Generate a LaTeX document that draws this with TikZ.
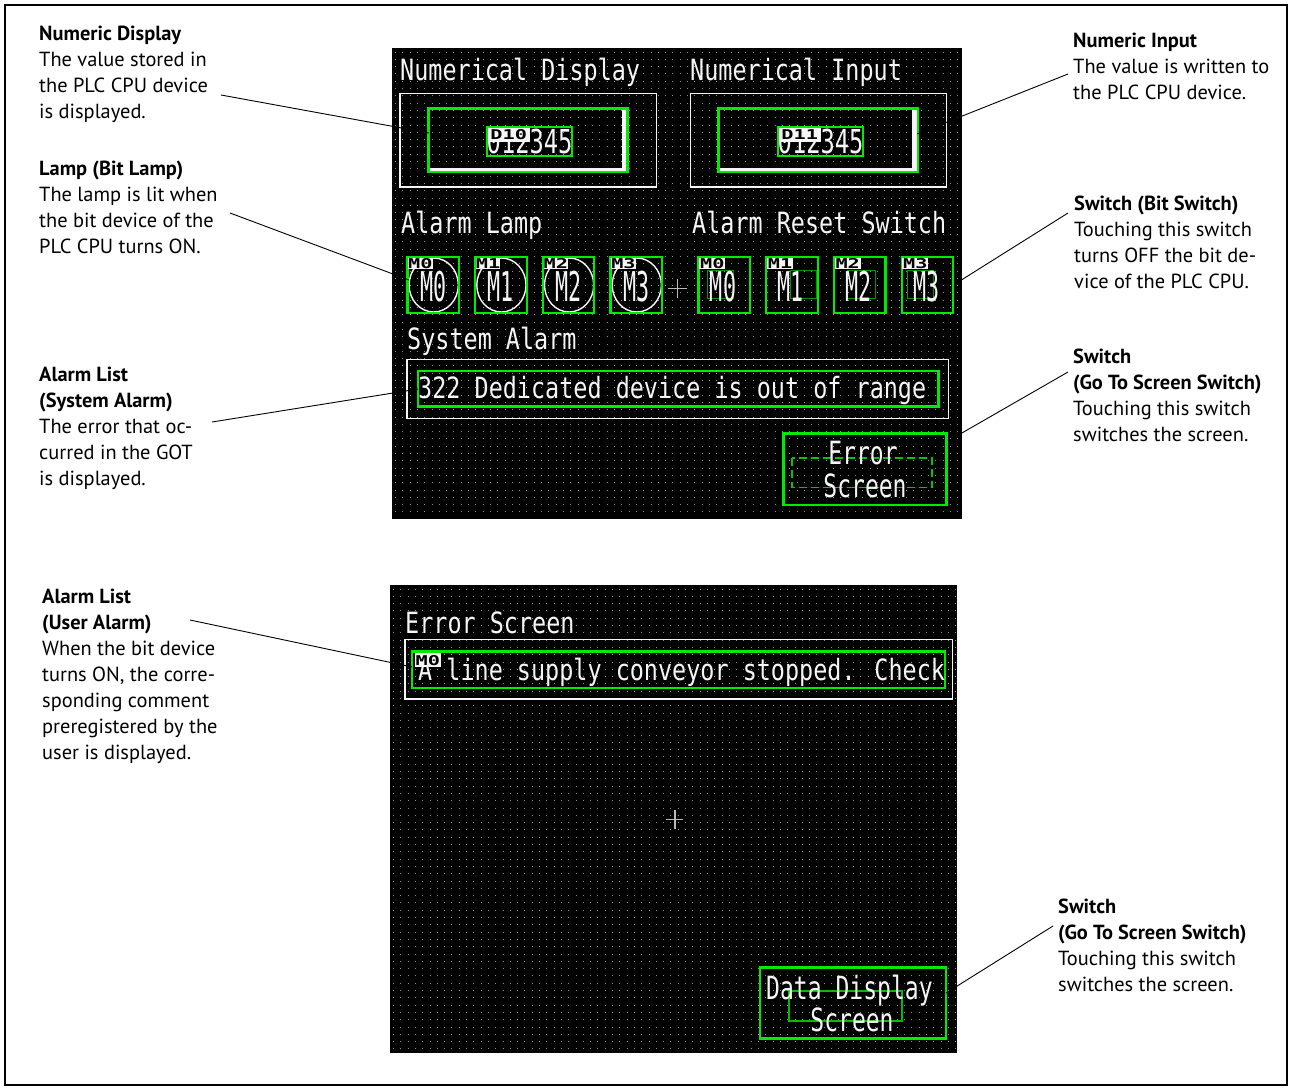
\documentclass[tikz,border=0pt]{standalone}
\usepackage{fontspec}
\setmainfont{PT Sans}
% screen fonts: narrow monospaced faces in several widths
\newfontfamily\gotA[FakeStretch=0.80]{DejaVu Sans Mono}
\newfontfamily\gotB[FakeStretch=0.72]{DejaVu Sans Mono}
\newfontfamily\gotC[FakeStretch=0.53]{DejaVu Sans Mono}
\newfontfamily\gotT[FakeStretch=1.50]{DejaVu Sans Mono}
\definecolor{gotgreen}{RGB}{0,235,0}
\definecolor{gotdark}{RGB}{0,150,0}
\definecolor{gotdot}{RGB}{140,140,140}
\definecolor{gotwhite}{RGB}{245,245,245}
\definecolor{gotcross}{RGB}{185,185,185}
\tikzset{
  screen/.style={fill=black, draw=none},
  dots/.style={draw=gotdot, line width=1pt, dash pattern=on 1pt off 6.3pt},
  wbox/.style={draw=gotwhite, line width=1.8pt},
  gbox/.style={draw=gotgreen, line width=2.2pt},
  ginner/.style={draw=gotdark, line width=1pt},
  gdash/.style={draw=gotgreen!85!black, line width=1.3pt, dash pattern=on 8pt off 4pt},
  shade/.style={fill=gotwhite, draw=none},
  lbl/.style={text=gotwhite, inner sep=0, anchor=base west, font=\gotA\fontsize{29.3}{29.3}\selectfont},
  btn/.style={text=gotwhite, inner sep=0, anchor=base, font=\gotB\fontsize{32}{32}\selectfont},
  digits/.style={text=gotwhite, inner sep=0, anchor=base west, font=\gotB\fontsize{33}{33}\selectfont},
  bigtxt/.style={text=gotwhite, inner sep=0, font=\gotC\fontsize{41}{41}\selectfont},
  tagbox/.style={fill=gotwhite, text=black, inner sep=0, anchor=north west,
    font=\gotT\bfseries\fontsize{13.5}{13.5}\selectfont},
  lampring/.style={draw=gotwhite, line width=1.4pt},
  cross/.style={draw=gotcross, line width=1.3pt},
  note/.style={align=left, inner sep=0, anchor=north west, text=black,
    font=\fontsize{20.4}{26}\selectfont},
  lead/.style={draw=black, line width=0.9pt},
}
\begin{document}
\begin{tikzpicture}[x=1pt, y=-1pt]
\useasboundingbox (0,0) rectangle (1292,1090);
\fill[white] (0,0) rectangle (1292,1090);
\draw[black, line width=1.6pt] (5,5) rectangle (1287,1085);

% ---------------- upper screen ----------------
\fill[screen] (392,48) rectangle (962,519);
\foreach \gy in {52,59.3,...,517} { \draw[dots] (395,\gy) -- (962,\gy); }

\node[lbl] (ndlabel) at (400,80) {Numerical Display};
\node[lbl] (nilabel) at (690,80) {Numerical Input};

% numerical display
\draw[wbox] (400,93.5) rectangle (656.5,187);
\fill[shade] (621.5,109) rectangle (627,171.5);
\fill[shade] (429,167.5) rectangle (627,171.5);
\draw[gbox] (428.5,108.5) rectangle (627.5,172);
\node[digits] (ndvalue) at (486.5,153) {012345};
\draw[gbox, line width=2pt] (486.5,126.5) rectangle (571.5,156);
\node[tagbox, minimum width=42pt, minimum height=14.5pt] (ndtag) at (487.5,127.5) {D10};

% numerical input
\draw[wbox] (690.5,93.5) rectangle (946.5,187);
\fill[shade] (912,109) rectangle (917.5,171.5);
\fill[shade] (719,167.5) rectangle (917.5,171.5);
\draw[gbox] (718.5,108.5) rectangle (918,172);
\node[digits] (nivalue) at (777.5,153) {012345};
\draw[gbox, line width=2pt] (777.5,126.5) rectangle (862.5,156);
\node[tagbox, minimum width=42pt, minimum height=14.5pt] (nitag) at (778.5,127.5) {D11};

% alarm lamps and reset switches
\node[lbl] (lamplabel) at (401,233) {Alarm Lamp};
\node[lbl] (resetlabel) at (692,233) {Alarm Reset Switch};
\foreach \i/\xl in {0/407.4,1/475.1,2/542.8,3/610.5} {
  \draw[lampring] (\xl+26.3,285) ellipse [x radius=24.6, y radius=27];
  \node[bigtxt] (lamp\i) at (\xl+25.8,286.5) {M\i};
  \draw[gbox] (\xl,257.3) rectangle (\xl+51.5,312.8);
  \node[tagbox, minimum width=24pt, minimum height=11pt] (lamptag\i) at (\xl+0.6,258) {M\i};
}
\draw[cross] (668,288.5) -- (687,288.5);
\draw[cross] (677.5,279) -- (677.5,298);
\foreach \i/\xl/\a/\b in {0/698.5/8.5/35,1/766.2/24/50,2/833.9/14/42,3/901.6/6/32} {
  \draw[ginner] (\xl+\a,270) rectangle (\xl+\b,298);
  \node[bigtxt] (switch\i) at (\xl+24.5,286.5) {M\i};
  \draw[gbox] (\xl,257.3) rectangle (\xl+51.5,312.8);
  \node[tagbox, minimum width=26pt, minimum height=11pt] (switchtag\i) at (\xl+0.6,258) {M\i};
}

% system alarm list
\node[lbl] (syslabel) at (407,349) {System Alarm};
\draw[wbox] (407,359.5) rectangle (948.5,418.5);
\draw[gbox] (418,371) rectangle (938.5,406.5);
\node[lbl] (sysmsg) at (418,398) {322 Dedicated device is out of range};

% go to screen switch
\draw[gdash] (792,458) rectangle (932,487.5);
\node[btn] (errtop) at (863,464) {Error};
\node[btn] (errbot) at (865,497) {Screen};
\draw[gbox] (783.5,433.5) rectangle (946.5,505);

% ---------------- lower screen ----------------
\fill[screen] (390,585) rectangle (957,1053);
\foreach \gy in {589,596.3,...,1051} { \draw[dots] (393,\gy) -- (957,\gy); }

\node[lbl] (errlabel) at (405,633) {Error Screen};
\draw[wbox] (405,639.5) rectangle (952.5,699);
\draw[gbox] (412,651.5) rectangle (945,688);
\node[lbl] (usermsg) at (418,680) {A line supply conveyor stopped. Check};
\node[tagbox, minimum width=26pt, minimum height=14.5pt] (usertag) at (414.7,652.7) {M0};

\draw[cross] (666,819.5) -- (683,819.5);
\draw[cross] (675,810) -- (675,829);

\draw[draw=gotgreen!80!black, line width=1.3pt] (789,991) rectangle (902,1021);
\node[btn, anchor=base west] (datatop) at (766,999) {Data Display};
\node[btn] (databot) at (852,1031) {Screen};
\draw[gbox] (760,967.5) rectangle (946,1038.5);

% ---------------- explanations ----------------
\node[note] (n1) at (39,22.5) {\strut\textbf{Numeric Display}\\The value stored in\\the PLC CPU device\\is displayed.};
\node[note] (n2) at (39,156.8) {\strut\textbf{Lamp (Bit Lamp)}\\The lamp is lit when\\the bit device of the\\PLC CPU turns ON.};
\node[note] (n3) at (39,362.8) {\strut\textbf{Alarm List}\\\textbf{(System Alarm)}\\The error that oc-\\curred in the GOT\\is displayed.};
\node[note] (n4) at (1073,28.8) {\strut\textbf{Numeric Input}\\The value is written to\\the PLC CPU device.};
\node[note] (n5) at (1074,192.3) {\strut\textbf{Switch (Bit Switch)}\\Touching this switch\\turns OFF the bit de-\\vice of the PLC CPU.};
\node[note] (n6) at (1073,345.3) {\strut\textbf{Switch}\\\textbf{(Go To Screen Switch)}\\Touching this switch\\switches the screen.};
\node[note] (n7) at (42,584.8) {\strut\textbf{Alarm List}\\\textbf{(User Alarm)}\\When the bit device\\turns ON, the corre-\\sponding comment\\preregistered by the\\user is displayed.};
\node[note] (n8) at (1058,894.8) {\strut\textbf{Switch}\\\textbf{(Go To Screen Switch)}\\Touching this switch\\switches the screen.};

% leader lines
\coordinate (l1a) at (221,95);    \coordinate (l1b) at (429,133);
\coordinate (l2a) at (230,213);   \coordinate (l2b) at (409,280);
\coordinate (l3a) at (212,422);   \coordinate (l3b) at (418,389);
\coordinate (l4a) at (1068,74);   \coordinate (l4b) at (917,134);
\coordinate (l5a) at (1068,213);  \coordinate (l5b) at (955,284);
\coordinate (l6a) at (1068,372);  \coordinate (l6b) at (948,441);
\coordinate (l7a) at (190,620);   \coordinate (l7b) at (412,667);
\coordinate (l8a) at (1053,926);  \coordinate (l8b) at (946,993);
\foreach \k in {1,...,8} { \draw[lead] (l\k a) -- (l\k b); }
\end{tikzpicture}
\end{document}
